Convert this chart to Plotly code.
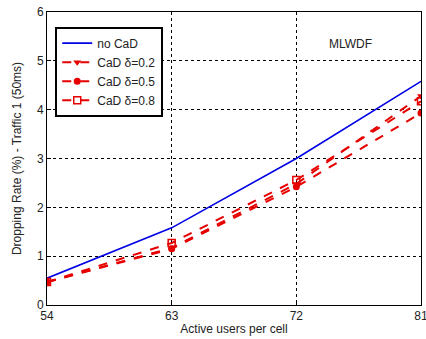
import plotly.graph_objects as go

users = [54, 63, 72, 81]
no_cad = [0.55, 1.58, 3.0, 4.58]
cad_02 = [0.47, 1.17, 2.48, 4.28]
cad_05 = [0.47, 1.15, 2.42, 3.93]
cad_08 = [0.47, 1.27, 2.56, 4.17]
x_ticks = [54, 63, 72, 81]
y_ticks = [0, 1, 2, 3, 4, 5, 6]

fig = go.Figure()
fig.add_trace(go.Scatter(x=users, y=no_cad, name="no CaD", mode="lines",
                         line=dict(color="#0000e6", width=1.6)))
fig.add_trace(go.Scatter(x=users, y=cad_02, name="CaD δ=0.2", mode="lines+markers",
                         line=dict(color="#e60000", width=2, dash="dash"),
                         marker=dict(symbol="triangle-down", size=7, color="#e60000")))
fig.add_trace(go.Scatter(x=users, y=cad_05, name="CaD δ=0.5", mode="lines+markers",
                         line=dict(color="#e60000", width=2, dash="dash"),
                         marker=dict(symbol="circle", size=7, color="#e60000")))
fig.add_trace(go.Scatter(x=users, y=cad_08, name="CaD δ=0.8", mode="lines+markers",
                         line=dict(color="#e60000", width=2, dash="dash"),
                         marker=dict(symbol="square-open", size=7, color="#e60000",
                                     line=dict(width=1.5))))

axis_common = dict(showline=True, linecolor="black", linewidth=1, mirror=True,
                   showgrid=True, gridcolor="black", griddash="dot", gridwidth=1,
                   ticks="inside", ticklen=4, tickcolor="black",
                   zeroline=False, tickfont=dict(size=12, color="#222"),
                   ticklabeloverflow="allow", automargin=False)

fig.update_xaxes(range=[54, 81], tickvals=x_ticks,
                 title=dict(text="Active users per cell", font=dict(size=12, color="#222"), standoff=2),
                 **axis_common)
fig.update_yaxes(range=[0, 6], tickvals=y_ticks,
                 title=dict(text="Dropping Rate (%) - Traffic 1 (50ms)", font=dict(size=12, color="#222"), standoff=12),
                 **axis_common)

fig.add_annotation(x=0.875, y=0.92, xref="paper", yref="paper", text="MLWDF",
                   showarrow=False, font=dict(size=12, color="#222"))

fig.update_layout(
    width=426, height=339,
    margin=dict(l=47, r=5, t=12, b=34),
    plot_bgcolor="white", paper_bgcolor="white",
    font=dict(family="Liberation Sans, Arial, sans-serif", size=12, color="#222"),
    legend=dict(x=0.022, y=0.95, xanchor="left", yanchor="top",
                bgcolor="white", bordercolor="black", borderwidth=2,
                font=dict(size=12), tracegroupgap=0, itemwidth=30),
    showlegend=True,
)

fig.write_html("out.html")
